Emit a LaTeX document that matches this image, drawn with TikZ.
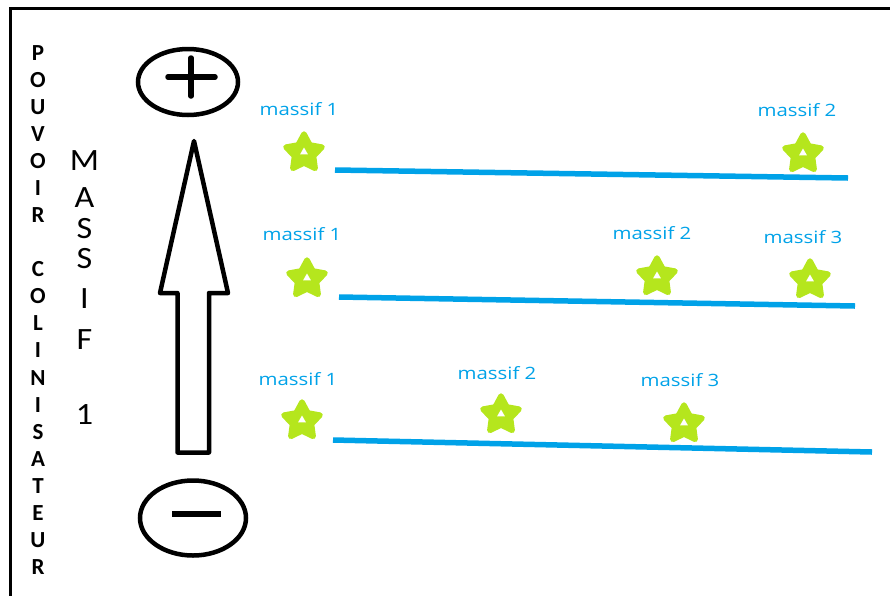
\documentclass[tikz,border=0pt]{standalone}
\usepackage{fontspec}
\setmainfont{Carlito}
\newfontfamily\labfont{Open Sans}
\usetikzlibrary{shapes.geometric}
\definecolor{paintblue}{HTML}{00A2E8}
\definecolor{paintlime}{HTML}{B5E61D}
\tikzset{
  massifstar/.style={star, star points=5, star point ratio=1.9, minimum size=38pt, inner sep=0pt,
    fill=paintlime, draw=paintlime, line width=5.5pt, line join=round},
  starhole/.style={regular polygon, regular polygon sides=3, minimum size=9pt, inner sep=0pt, fill=white},
  lab/.style={text=paintblue, inner sep=0pt, font=\labfont\fontsize{17}{20}\selectfont},
  ground/.style={draw=paintblue, line width=5.5pt},
  pole/.style={ellipse, draw=black, line width=4.5pt, inner sep=0pt},
  sign/.style={draw=black, line width=5.5pt, line cap=round},
  vleft/.style={anchor=base, inner sep=0pt, font=\fontsize{23}{27}\selectfont\bfseries},
  vmid/.style={anchor=base, inner sep=0pt, font=\fontsize{31}{37}\selectfont},
  framel/.style={draw=black, line width=3pt}
}
\begin{document}
\begin{tikzpicture}[x=1pt, y=-1pt]
\useasboundingbox (0,0) rectangle (890,595);
% frame
\coordinate (fb) at (10,596);
\coordinate (ftl) at (10,8.5);
\coordinate (ftr) at (891,8.5);
\draw[framel] (fb) -- (ftl) -- (ftr);
% left vertical text
\foreach \ch/\k [count=\n] in {P/0,O/1,U/2,V/3,O/4,I/5,R/6,C/8,O/9,L/10,I/11,N/12,I/13,S/14,A/15,T/16,E/17,U/18,R/19}{
  \node[vleft] (pc\n) at (38, {53+27.05*\k+7.4}) {\ch};
}
% MASSIF 1 column
\foreach \ch/\yy [count=\n] in {M/160,A/197,S/228,S/258,I/298,F/339,1/414}{
  \node[vmid] (ms\n) at (84.5, {\yy+10}) {\scalebox{1.1}[1]{\ch}};
}
% poles
\node[pole, minimum width=100pt, minimum height=66pt] (plus) at (188,82) {};
\node[pole, minimum width=106pt, minimum height=75pt] (minus) at (193,518) {};
\coordinate (ph1) at (168,77); \coordinate (ph2) at (215,77);
\coordinate (pv1) at (191,58); \coordinate (pv2) at (191,96);
\draw[sign] (ph1) -- (ph2);
\draw[sign] (pv1) -- (pv2);
\coordinate (mh1) at (172,514); \coordinate (mh2) at (221,514);
\draw[sign, line width=6pt, line cap=butt] (mh1) -- (mh2);
% arrow
\draw[black, line width=4.5pt, line join=round]
  (194,141) -- (228,293) -- (209,293) -- (209,452.5) -- (177.5,452.5) -- (177.5,293) -- (160,293) -- cycle;
% ground lines
\coordinate (g1a) at (335,170); \coordinate (g1b) at (848,178);
\coordinate (g2a) at (339,297); \coordinate (g2b) at (855,306);
\coordinate (g3a) at (333,440); \coordinate (g3b) at (872,452);
\draw[ground] (g1a) -- (g1b);
\draw[ground] (g2a) -- (g2b);
\draw[ground] (g3a) -- (g3b);
% stars
\foreach \nm/\xx/\yy in {s11/304/151, s12/803/152, s21/307/277, s22/657/275, s23/810/278, s31/302/419, s32/501/413, s33/684/422}{
  \node[massifstar] (\nm) at (\xx, {\yy+2}) {};
  \node[starhole] (h\nm) at (\xx, {\yy+1}) {};
}
% labels
\node[lab] (l11) at (299,109) {\scalebox{1.2}[1]{massif 1}};
\node[lab] (l12) at (797,110) {\scalebox{1.2}[1]{massif 2}};
\node[lab] (l21) at (302,234) {\scalebox{1.2}[1]{massif 1}};
\node[lab] (l22) at (652,233) {\scalebox{1.2}[1]{massif 2}};
\node[lab] (l23) at (803,237) {\scalebox{1.2}[1]{massif 3}};
\node[lab] (l31) at (298,379) {\scalebox{1.2}[1]{massif 1}};
\node[lab] (l32) at (497,373) {\scalebox{1.2}[1]{massif 2}};
\node[lab] (l33) at (680,380) {\scalebox{1.2}[1]{massif 3}};
\end{tikzpicture}
\end{document}
